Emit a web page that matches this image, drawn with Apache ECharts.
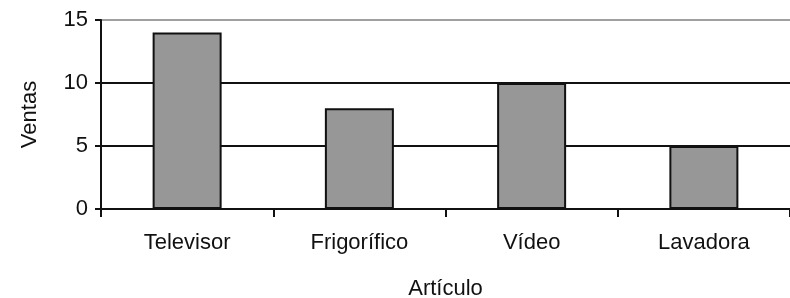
<!DOCTYPE html>
<html>
<head>
<meta charset="UTF-8">
<title>Ventas por artículo</title>
<script src="https://cdn.jsdelivr.net/npm/echarts@6/dist/echarts.min.js"></script>
<style>
html, body { margin: 0; padding: 0; background: #fff; }
#barDiv { width: 790px; height: 298px; }
</style>
</head>
<body>
<div id="barDiv"></div>
<script>
// datos
var categorias = ['Televisor', 'Frigorífico', 'Vídeo', 'Lavadora'];
var ventas = [14, 8, 10, 5];
var ticksY = [0, 5, 10, 15];

var fuente = '"Liberation Sans", Arial, sans-serif';

var option = {
    animation: false,
    grid: { left: 101, right: 0, top: 20, bottom: 89, outerBoundsMode: 'none' },
    xAxis: {
        type: 'category',
        data: categorias,
        name: 'Artículo',
        nameLocation: 'middle',
        nameGap: 69,
        nameTextStyle: { color: '#111', fontFamily: fuente, fontSize: 22 },
        axisLine: { lineStyle: { color: '#111', width: 2 } },
        axisTick: { show: true, length: 8, lineStyle: { color: '#111', width: 2 } },
        axisLabel: { color: '#111', fontFamily: fuente, fontSize: 22, margin: 23 },
        splitLine: { show: false }
    },
    yAxis: {
        type: 'value',
        min: ticksY[0],
        max: ticksY[ticksY.length - 1],
        interval: 5,
        name: 'Ventas',
        nameLocation: 'middle',
        nameGap: 60,
        nameTextStyle: { color: '#111', fontFamily: fuente, fontSize: 22 },
        axisLine: { show: true, lineStyle: { color: '#111', width: 2 } },
        axisTick: { show: true, length: 6, lineStyle: { color: '#111', width: 2 } },
        axisLabel: { color: '#111', fontFamily: fuente, fontSize: 22, margin: 13 },
        // la linea de arriba (15) es gris, el resto negras
        splitLine: { show: true, lineStyle: { color: ['#111', '#111', '#111', '#a0a0a0'], width: 2 } }
    },
    series: [{
        name: 'Ventas',
        type: 'bar',
        data: ventas,
        barWidth: 69,
        itemStyle: { color: '#979797', borderColor: '#111', borderWidth: 2 }
    }]
};

var myChart = echarts.init(document.getElementById('barDiv'));
myChart.setOption(option);
</script>
</body>
</html>
